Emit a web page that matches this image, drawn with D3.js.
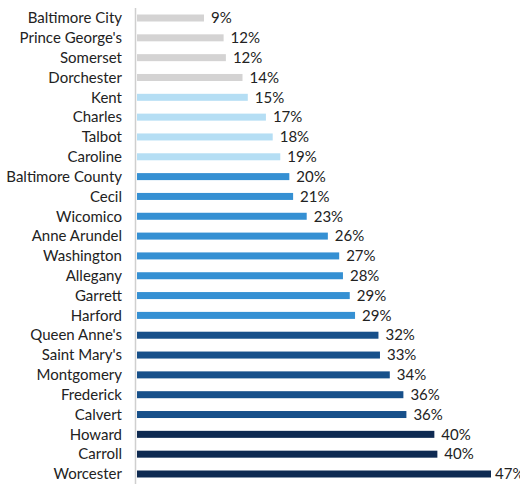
<!DOCTYPE html>
<html>
<head>
<meta charset="utf-8">
<script src="https://cdn.jsdelivr.net/npm/d3@7"></script>
<style>
  body { margin: 0; background: #fff; }
  text { font-family: Lato, "Open Sans", sans-serif; }
</style>
</head>
<body>
<script>
const width = 520, height = 484;

const counties = ["Baltimore City", "Prince George's", "Somerset", "Dorchester", "Kent", "Charles",
  "Talbot", "Caroline", "Baltimore County", "Cecil", "Wicomico", "Anne Arundel", "Washington",
  "Allegany", "Garrett", "Harford", "Queen Anne's", "Saint Mary's", "Montgomery", "Frederick",
  "Calvert", "Howard", "Carroll", "Worcester"];
const values = [9.0, 11.6, 11.9, 14.1, 14.8, 17.2, 18.1, 19.1, 20.3, 20.8, 22.6, 25.4, 26.9,
  27.4, 28.3, 29.0, 32.1, 32.3, 33.6, 35.4, 35.8, 39.5, 39.9, 47.0];
const labels = ["9%", "12%", "12%", "14%", "15%", "17%", "18%", "19%", "20%", "21%", "23%", "26%",
  "27%", "28%", "29%", "29%", "32%", "33%", "34%", "36%", "36%", "40%", "40%", "47%"];
// colour group per county
const groups = [0, 0, 0, 0, 1, 1, 1, 1, 2, 2, 2, 2, 2, 2, 2, 2, 3, 3, 3, 3, 3, 4, 4, 4];
const groupColors = ["#d4d3d3", "#b5def4", "#3590d3", "#17508a", "#0e2a52"];

const data = counties.map((c, i) => ({ county: c, value: values[i], label: labels[i], group: groups[i] }));

const svg = d3.select('body')
            .append('svg')
            .attr('width', width)
            .attr('height', height)
            .attr('viewBox', [0, 0, width, height]);

const x = d3.scaleLinear()
        .domain([0, 47])
        .range([136, 491]);

const y = d3.scalePoint()
        .domain(counties)
        .range([18, 474]);

const color = d3.scaleOrdinal()
        .domain([0, 1, 2, 3, 4])
        .range(groupColors);

const barH = 7;

// vertical axis line
svg.append("line")
    .attr("x1", 135.5).attr("x2", 135.5)
    .attr("y1", 8).attr("y2", height)
    .attr("stroke", "#cfcfcf")
    .attr("stroke-width", 1.5);

svg.selectAll("rect.bar")
    .data(data)
    .enter()
    .append("rect")
    .attr("class", "bar")
    .attr("x", x(0) + 1)
    .attr("y", d => y(d.county) - barH / 2)
    .attr("width", d => x(d.value) - x(0) - 1)
    .attr("height", barH)
    .attr("fill", d => color(d.group));

svg.selectAll("text.name")
    .data(data)
    .enter()
    .append("text")
    .attr("class", "name")
    .attr("x", 122)
    .attr("y", d => y(d.county))
    .attr("dy", "0.35em")
    .attr("text-anchor", "end")
    .attr("font-size", 15)
    .attr("fill", "#222")
    .text(d => d.county);

// last label sits right on the edge, as in the source image
svg.selectAll("text.val")
    .data(data)
    .enter()
    .append("text")
    .attr("class", "val")
    .attr("x", d => x(d.value) + (d.value > 45 ? 4 : 7))
    .attr("y", d => y(d.county))
    .attr("dy", "0.35em")
    .attr("font-size", 15)
    .attr("fill", "#222")
    .text(d => d.label);
</script>
</body>
</html>
